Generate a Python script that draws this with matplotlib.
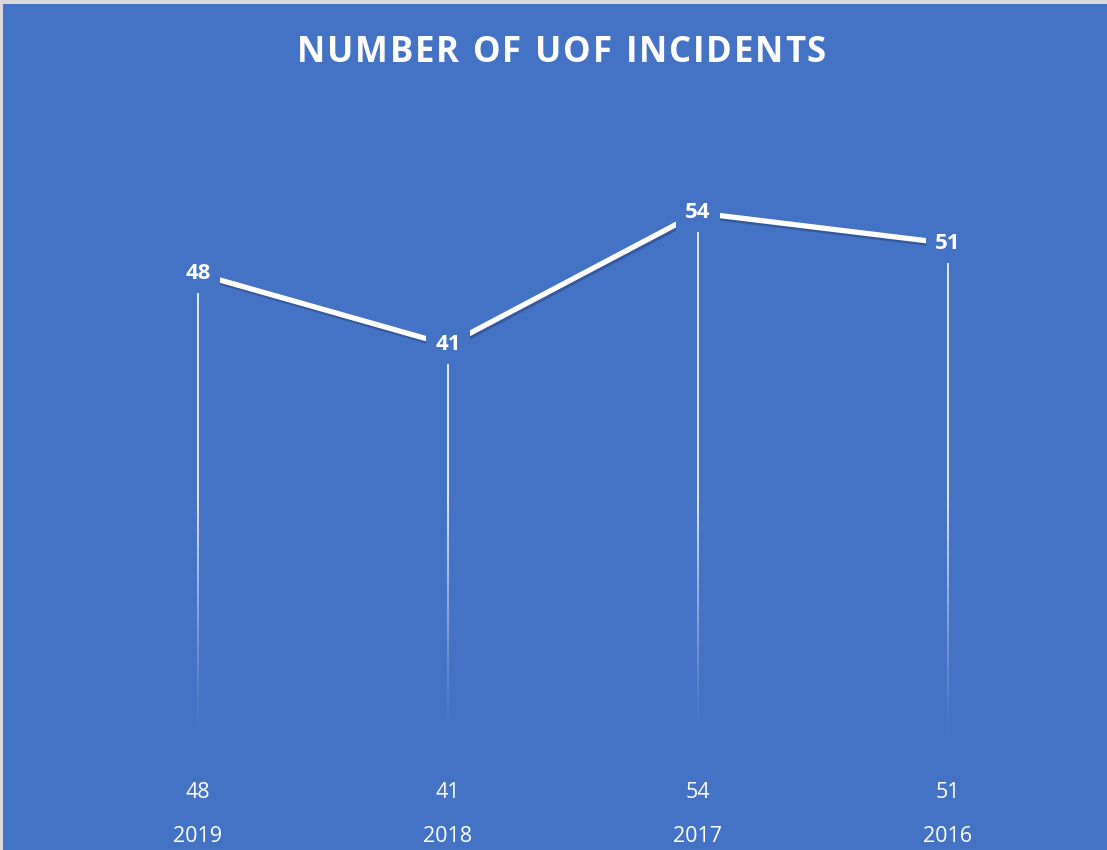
import numpy as np
import matplotlib
matplotlib.use("Agg")
import matplotlib.pyplot as plt
import matplotlib.patheffects as pe
import matplotlib.transforms as mtransforms
from matplotlib.collections import LineCollection
from matplotlib.patches import Rectangle

years = ["2019", "2018", "2017", "2016"]
incidents = [48, 41, 54, 51]
title = "NUMBER OF UOF INCIDENTS"

BG = "#4472C4"
plt.rcParams["font.family"] = ["Open Sans", "DejaVu Sans"]

fig = plt.figure(figsize=(11.07, 8.5), dpi=100)
fig.patch.set_facecolor("#d9d9d9")
fig.patches.append(Rectangle((3 / 1107, 0), 1, 1 - 4 / 850, transform=fig.transFigure,
                             facecolor=BG, edgecolor="none", zorder=-10))

ax = fig.add_axes([73 / 1107, 1 - 761 / 850, 1000 / 1107, 609 / 850])
ax.set_facecolor("none")
ax.set_xlim(-0.5, len(years) - 0.5)
ax.set_ylim(0, 60)
ax.axis("off")

x = np.arange(len(years))

# drop lines fading towards the bottom
for xi, v in zip(x, incidents):
    ys = np.linspace(0, v, 200)
    segs = [[(xi, ys[i]), (xi, ys[i + 1])] for i in range(len(ys) - 1)]
    mid = (ys[:-1] + ys[1:]) / 2
    alpha = np.clip((mid - 2) / 24, 0, 1) ** 1.3
    colors = [(1, 1, 1, a) for a in alpha]
    ax.add_collection(LineCollection(segs, colors=colors, linewidths=1.2, zorder=2))

ax.plot(x, incidents, color="white", lw=3.8, solid_capstyle="butt", zorder=3,
        path_effects=[pe.SimpleLineShadow(offset=(1.0, -1.8), shadow_color="#1f3a6e", alpha=0.45),
                      pe.Normal()])

for xi, v in zip(x, incidents):
    ax.text(xi, v, str(v), ha="center", va="center", color="white", fontsize=16,
            fontweight="bold", zorder=5,
            bbox=dict(boxstyle="square,pad=0.4", facecolor=BG, edgecolor="none"))

tr = mtransforms.blended_transform_factory(ax.transData, fig.transFigure)
for xi, v, yr in zip(x, incidents, years):
    ax.text(xi, 1 - 792 / 850, str(v), transform=tr,
            ha="center", va="center", color="white", fontsize=15.5)
    ax.text(xi, 1 - 837 / 850, yr, transform=tr,
            ha="center", va="center", color="white", fontsize=15.5)

# letter-spaced title, characters placed one by one
renderer = fig.canvas.get_renderer()
tkw = dict(color="white", fontsize=25, fontweight="bold", va="center", ha="left")
widths = []
for ch in title:
    t = fig.text(0, 0, ch if ch != " " else "n", **tkw)
    widths.append(t.get_window_extent(renderer).width * (0.45 if ch == " " else 1))
    t.remove()
target = 529
gap = (target - sum(widths)) / (len(title) - 1)
xpos = 297
for ch, w in zip(title, widths):
    if ch != " ":
        fig.text(xpos / 1107, 1 - 53 / 850, ch, **tkw)
    xpos += w + gap

fig.savefig("out.png", dpi=100, facecolor=fig.get_facecolor())
